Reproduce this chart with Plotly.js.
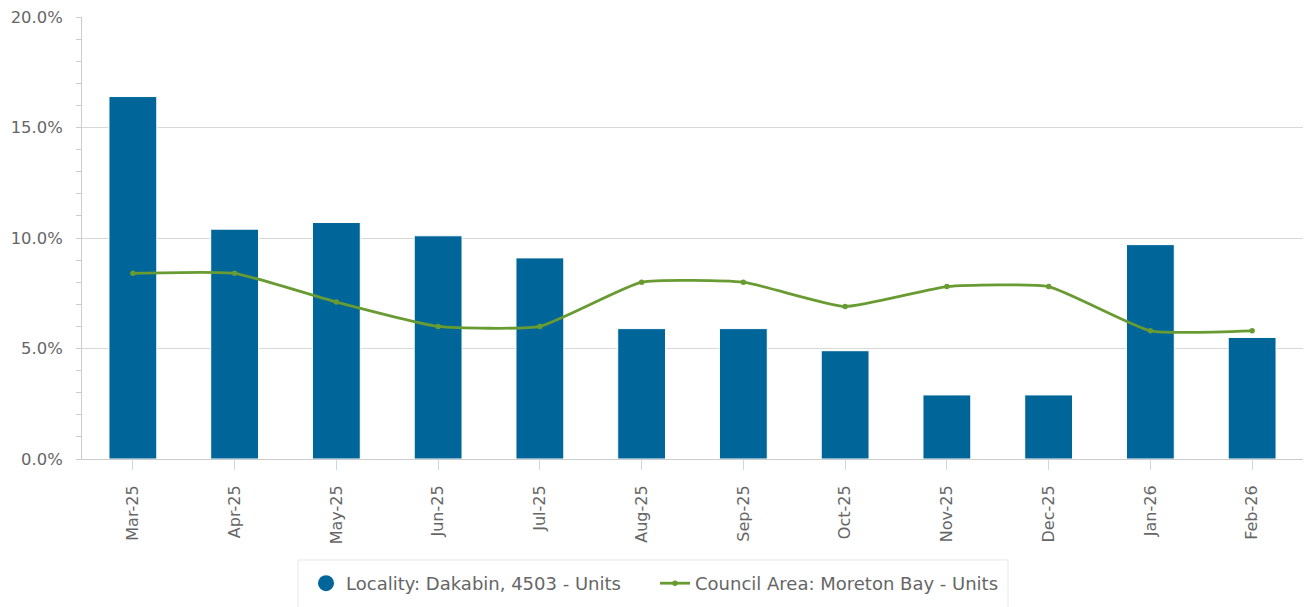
<!DOCTYPE html>
<html>
<head>
<meta charset="utf-8">
<script src="https://cdn.plot.ly/plotly-3.0.1.min.js"></script>
<style>
  html, body { margin: 0; padding: 0; background: #ffffff; }
  #chart { width: 1306px; height: 607px; }
</style>
</head>
<body>
<div id="chart"></div>
<script>
const months = ["Mar-25","Apr-25","May-25","Jun-25","Jul-25","Aug-25","Sep-25","Oct-25","Nov-25","Dec-25","Jan-26","Feb-26"];
const localityValues = [16.4, 10.4, 10.7, 10.1, 9.1, 5.9, 5.9, 4.9, 2.9, 2.9, 9.7, 5.5];
const councilValues = [8.4, 8.4, 7.1, 6.0, 6.0, 8.0, 8.0, 6.9, 7.8, 7.8, 5.8, 5.8];
const localityName = "Locality: Dakabin, 4503 - Units";
const councilName = "Council Area: Moreton Bay - Units";
const yTickVals = [0, 5, 10, 15, 20];
const yTickText = ["0.0%", "5.0%", "10.0%", "15.0%", "20.0%"];

const barColor = "#006699";
const lineColor = "#689b32";
const fontFam = "DejaVu Sans, sans-serif";

const traces = [
  {
    type: "bar",
    x: months,
    y: localityValues,
    name: localityName,
    width: 0.47,
    marker: { color: barColor, line: { color: "#ffffff", width: 1 } },
    showlegend: false,
    hoverinfo: "skip"
  },
  {
    type: "scatter",
    mode: "markers",
    x: [null],
    y: [null],
    name: localityName,
    marker: { color: barColor, size: 17, symbol: "circle" },
    showlegend: true,
    hoverinfo: "skip"
  },
  {
    type: "scatter",
    mode: "lines+markers",
    x: months,
    y: councilValues,
    name: councilName,
    line: { color: lineColor, width: 2.8, shape: "spline", smoothing: 0.45 },
    marker: { color: lineColor, size: 5.5 },
    hoverinfo: "skip"
  }
];

const layout = {
  width: 1306,
  height: 607,
  margin: { l: 82, r: 3, t: 17, b: 148, pad: 0 },
  paper_bgcolor: "#ffffff",
  plot_bgcolor: "#ffffff",
  font: { family: fontFam, size: 16, color: "#666666" },
  showlegend: true,
  xaxis: {
    type: "category",
    range: [-0.5, 11.5],
    showline: true,
    linecolor: "#cccccc",
    linewidth: 1,
    showgrid: false,
    zeroline: false,
    ticks: "outside",
    ticklen: 10,
    tickcolor: "#ccd6eb",
    tickwidth: 1,
    tickangle: -90,
    ticklabelstandoff: 9,
    tickfont: { family: fontFam, size: 16, color: "#666666" },
    fixedrange: true
  },
  yaxis: {
    range: [0, 20],
    tickmode: "array",
    tickvals: yTickVals,
    ticktext: yTickText,
    showline: true,
    linecolor: "#cccccc",
    linewidth: 1,
    showgrid: true,
    gridcolor: "#d8d8d8",
    gridwidth: 1,
    zeroline: false,
    ticks: "outside",
    ticklen: 5,
    tickcolor: "#cccccc",
    tickwidth: 1,
    minor: { dtick: 1, ticks: "outside", ticklen: 5, tickcolor: "#cccccc", tickwidth: 1, showgrid: false },
    tickfont: { family: fontFam, size: 16.4, color: "#666666" },
    ticklabelstandoff: 10,
    fixedrange: true
  },
  legend: {
    orientation: "h",
    x: 0.4693,
    xanchor: "center",
    y: -0.2398,
    yanchor: "top",
    bgcolor: "rgba(255,255,255,0)",
    borderwidth: 0,
    entrywidth: 304,
    font: { family: fontFam, size: 18, color: "#666666" },
    itemsizing: "trace",
    traceorder: "normal"
  },
  shapes: [
    {
      type: "rect",
      xref: "paper",
      yref: "paper",
      x0: 0.1769,
      x1: 0.7584,
      y0: -0.2285,
      y1: -0.346,
      line: { color: "#e8e8e8", width: 1 },
      fillcolor: "rgba(0,0,0,0)",
      layer: "below"
    }
  ]
};

Plotly.newPlot("chart", traces, layout, { displayModeBar: false, staticPlot: true });
</script>
</body>
</html>
